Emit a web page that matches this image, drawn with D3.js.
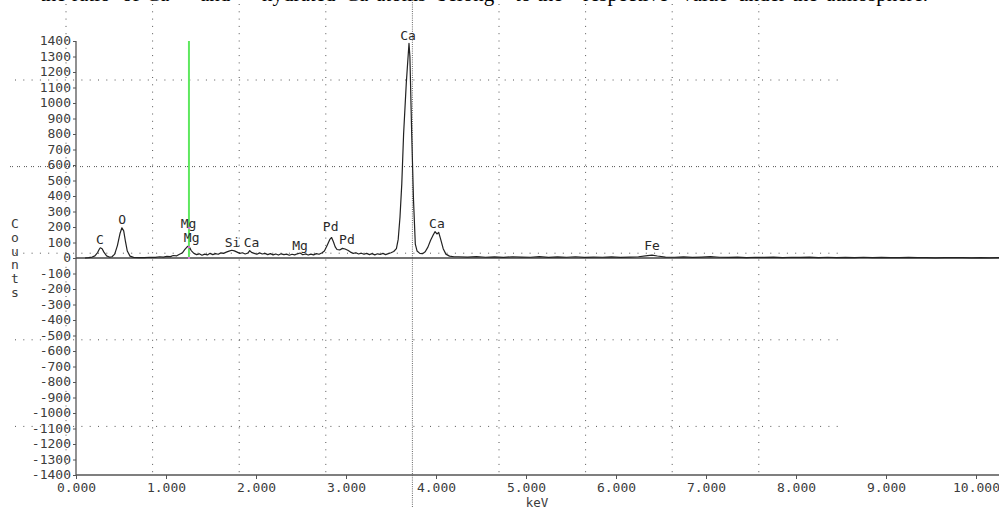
<!DOCTYPE html>
<html><head><meta charset="utf-8">
<script src="https://cdn.jsdelivr.net/npm/d3@7/dist/d3.min.js"></script>
<style>body{margin:0;background:#fff}svg{display:block}</style>
</head><body>
<svg id="c" width="999" height="508"></svg>
<script>
// ---- data ----
const energy = [0.10,0.14,0.18,0.21,0.24,0.26,0.27,0.29,0.31,0.34,0.37,0.40,0.43,0.46,0.49,0.51,0.53,0.55,0.57,0.60,0.64,0.70,0.76,0.82,0.88,0.93,0.97,1.01,1.05,1.08,1.12,1.15,1.18,1.21,1.24,1.26,1.28,1.31,1.34,1.37,1.40,1.43,1.46,1.49,1.52,1.55,1.58,1.61,1.64,1.67,1.70,1.73,1.76,1.79,1.82,1.85,1.88,1.91,1.93,1.95,1.98,2.01,2.04,2.07,2.10,2.13,2.16,2.19,2.22,2.25,2.28,2.31,2.34,2.37,2.40,2.43,2.46,2.49,2.52,2.55,2.58,2.61,2.64,2.67,2.70,2.73,2.76,2.79,2.82,2.84,2.86,2.88,2.90,2.93,2.96,2.99,3.02,3.05,3.08,3.11,3.14,3.17,3.20,3.23,3.26,3.29,3.32,3.35,3.38,3.41,3.44,3.47,3.50,3.53,3.56,3.58,3.60,3.62,3.64,3.67,3.70,3.71,3.73,3.75,3.77,3.79,3.82,3.85,3.88,3.91,3.94,3.97,3.99,4.01,4.03,4.05,4.08,4.11,4.15,4.20,4.25,4.35,4.45,4.55,4.65,4.75,4.85,4.95,5.05,5.15,5.25,5.35,5.45,5.55,5.65,5.75,5.85,5.95,6.05,6.15,6.25,6.33,6.40,6.46,6.55,6.65,6.75,6.85,6.95,7.05,7.15,7.25,7.35,7.45,7.55,7.65,7.75,7.85,7.95,8.05,8.15,8.25,8.35,8.45,8.55,8.65,8.75,8.85,8.95,9.05,9.15,9.25,9.35,9.45,9.55,9.65,9.75,9.85,9.95,10.05,10.15,10.26];
const counts = [0,2,6,14,35,58,66,60,38,14,6,8,25,80,160,195,175,105,45,12,4,2,3,5,4,8,6,11,9,16,14,24,32,55,75,70,48,30,22,27,18,25,20,30,22,28,24,33,30,38,44,50,46,38,30,34,26,32,48,36,30,24,33,26,30,22,28,20,26,19,27,22,25,18,24,20,27,32,21,26,19,25,20,28,24,32,45,80,120,132,105,72,55,52,62,58,50,38,30,34,26,31,24,30,22,28,20,27,23,30,22,28,34,42,60,120,265,480,800,1130,1385,1300,800,375,90,45,30,28,40,70,115,150,170,155,165,125,60,25,12,8,8,6,9,5,7,4,8,6,5,9,4,7,5,8,4,6,5,7,4,6,8,14,19,13,6,5,7,4,6,9,5,4,6,3,5,4,6,3,5,4,6,3,5,2,4,3,5,2,4,3,2,4,2,3,1,3,2,2,1,2,1,2];
const yTickValues = d3.range(-1400, 1401, 100);
const xTickValues = [0,1,2,3,4,5,6,7,8,9,10];
const peakNames   = ["C","O","Mg","Mg","Si","Ca","Mg","Pd","Pd","Ca","Ca","Fe"];
const peakEnergy  = [0.267,0.513,1.25,1.285,1.74,1.95,2.49,2.83,3.01,3.69,4.01,6.40];
const peakLabelAt = [90,220,194,103,71,71,52,174,90,1406,194,52];
const cursorEnergy = 1.255;   // green marker
const cursorTop = 1400;
const topWords = [["the",40],["ratio",72],["of",122],["Ca",146],["and",200],["hydrated",262],["Ca",345],["atoms",376],["belong",437],["to",515],["the",537],["respective",583],["value",682],["under",738],["the",792],["atmosphere.",826]];

// ---- layout ----
const W = 999, H = 508;
const x = d3.scaleLinear().domain([0, 10]).range([76, 976]);
const y = d3.scaleLinear().domain([-1400, 1400]).range([475, 41]);
const mono = "'DejaVu Sans Mono', monospace";
const svg = d3.select("#c");
svg.append("rect").attr("width", W).attr("height", H).attr("fill", "#fff");

// clipped text line at the top (page text above the figure; only descenders are visible)
svg.append("g").selectAll("text").data(topWords).join("text")
  .attr("x", d => d[1]).attr("y", 0.5)
  .attr("font-family", "'Liberation Serif', serif").attr("font-size", 21).attr("fill", "#000")
  .text(d => d[0]);

// grid (instrument screen grid, independent of data)
const gx0 = 66, gy0 = 80, gstep = 86.6;
const grid = svg.append("g").attr("stroke", "#555").attr("stroke-width", 1).attr("fill", "none");
for (let k = 0; k < 9; k++) {
  const gx = gx0 + k * gstep;
  if (k === 4) continue;
  grid.append("line").attr("x1", gx).attr("x2", gx).attr("y1", 4).attr("y2", 476)
    .attr("stroke-dasharray", "1,6.3");
}
for (let k = 0; k < 5; k++) {
  const gy = gy0 + k * gstep;
  if (k === 1) {
    grid.append("line").attr("x1", 10).attr("x2", 999).attr("y1", gy).attr("y2", gy)
      .attr("stroke-dasharray", "1,1,1,4");
  } else {
    grid.append("line").attr("x1", 15).attr("x2", 840).attr("y1", gy).attr("y2", gy)
      .attr("stroke-dasharray", "1,7.3");
  }
}
// dense dotted cursor line
grid.append("line").attr("x1", gx0 + 4 * gstep).attr("x2", gx0 + 4 * gstep).attr("y1", 0).attr("y2", 508)
  .attr("stroke", "#666").attr("stroke-dasharray", "1,1.2");

// axes
const yAxis = d3.axisLeft(y).tickValues(yTickValues).tickSize(3).tickPadding(2)
  .tickFormat(d => d < 0 ? "-" + Math.abs(d) : String(d));
const gy = svg.append("g").attr("transform", "translate(76,0)").call(yAxis);
gy.select(".domain").attr("stroke", "#555").attr("stroke-width", 1.3).attr("d", `M0,${y(1400)}V${y(-1400)}`);
gy.selectAll(".tick line").attr("stroke", "#555");
gy.selectAll("text").attr("font-family", mono).attr("font-size", 13).attr("fill", "#3c3c3c").attr("dy", "0.27em");

const xAxis = d3.axisBottom(x).tickValues(xTickValues).tickSize(4).tickPadding(3).tickFormat(d3.format(".3f"));
const gxA = svg.append("g").attr("transform", `translate(0,${y(-1400)})`).call(xAxis);
gxA.select(".domain").attr("stroke", "#555").attr("stroke-width", 1.5).attr("d", `M76,0H999`);
gxA.selectAll(".tick line").attr("stroke", "#555");
gxA.selectAll("text").attr("font-family", mono).attr("font-size", 13).attr("fill", "#3c3c3c").attr("dy", "0.75em");

svg.append("text").attr("x", 537).attr("y", 506.5).attr("text-anchor", "middle")
  .attr("font-family", mono).attr("font-size", 12.5).attr("fill", "#3c3c3c").text("keV");

// vertical "Counts" label
const yl = "Counts".split("");
svg.append("g").selectAll("text").data(yl).join("text")
  .attr("x", 15).attr("y", (d, i) => 228 + i * 13.8).attr("text-anchor", "middle")
  .attr("font-family", mono).attr("font-size", 13).attr("fill", "#3c3c3c").text(d => d);

// zero line
svg.append("line").attr("x1", 76).attr("x2", 999).attr("y1", y(0)).attr("y2", y(0))
  .attr("stroke", "#444").attr("stroke-width", 1.4);

// green marker
svg.append("line").attr("x1", x(cursorEnergy)).attr("x2", x(cursorEnergy))
  .attr("y1", y(cursorTop)).attr("y2", y(0)).attr("stroke", "#5fe85f").attr("stroke-width", 2);

// spectrum
const pts = energy.map((e, i) => [e, counts[i]]);
svg.append("path").datum(pts)
  .attr("d", d3.line().x(d => x(d[0])).y(d => y(d[1])))
  .attr("fill", "none").attr("stroke", "#222").attr("stroke-width", 1.2).attr("stroke-linejoin", "round");

// small magenta markers on the green line
svg.append("g").selectAll("rect").data([194, 70, 0]).join("rect")
  .attr("x", x(cursorEnergy) - 1).attr("y", d => y(d) - 1).attr("width", 2).attr("height", 2).attr("fill", "#e070e0");

// peak labels
svg.append("g").selectAll("text").data(peakNames).join("text")
  .attr("x", (d, i) => x(peakEnergy[i])).attr("y", (d, i) => y(peakLabelAt[i]))
  .attr("text-anchor", "middle").attr("font-family", mono).attr("font-size", 13).attr("fill", "#2a2a2a")
  .text(d => d);
</script>
</body></html>
